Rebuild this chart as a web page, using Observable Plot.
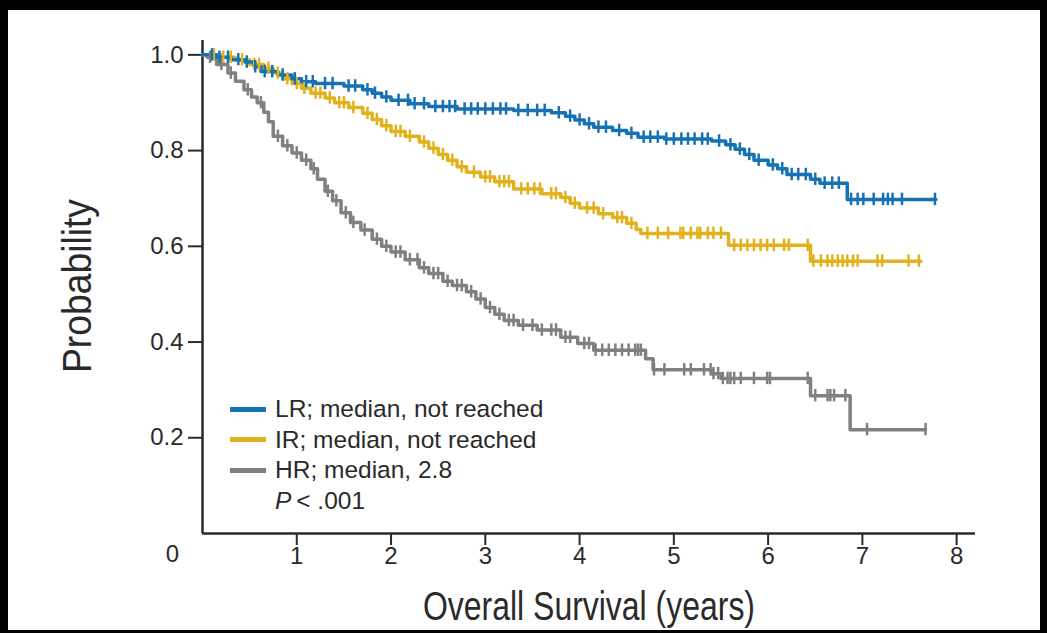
<!DOCTYPE html>
<html><head><meta charset="utf-8">
<script src="https://cdn.jsdelivr.net/npm/d3@7"></script>
<script src="https://cdn.jsdelivr.net/npm/@observablehq/plot@0.6"></script>
<style>
html,body{margin:0;padding:0;background:#fff;}
#wrap{position:relative;width:1047px;height:633px;overflow:hidden;background:#fff;}
#wrap svg{position:absolute;left:0;top:0;}
#frame{position:absolute;left:0;top:0;width:1047px;height:633px;box-sizing:border-box;border-style:solid;border-color:#000;border-width:10px 7px 3px 8px;pointer-events:none;}
#legend{position:absolute;left:230px;top:394px;font-family:"Liberation Sans",Arial,sans-serif;font-size:24.5px;color:#2a2a2a;}
.row{display:flex;align-items:center;height:30.5px;}
.sw{width:36px;height:5px;margin-right:9px;}
.pv{padding-left:45px;}
</style></head><body><div id="wrap"></div>
<script>
// ---- data ----
const seriesNames = ["LR", "IR", "HR"];
const legendLabels = ["LR; median, not reached", "IR; median, not reached", "HR; median, 2.8"];
const seriesColors = ["#1672b3", "#e2b21e", "#808080"];
const pValueText = "< .001";
const xTicks = [1, 2, 3, 4, 5, 6, 7, 8];
const yTicks = [0.2, 0.4, 0.6, 0.8, 1.0];
const originLabel = "0";
const xLabel = "Overall Survival (years)";
const yLabel = "Probability";

const lrTime = [0, 0.15, 0.3, 0.45, 0.55, 0.62, 0.8, 0.95, 1.05, 1.2, 1.5, 1.7, 1.8, 1.9, 2.0, 2.2, 2.4, 2.7, 3.3, 3.7, 3.85, 3.95, 4.05, 4.15, 4.35, 4.5, 4.62, 4.9, 5.4, 5.55, 5.65, 5.75, 5.85, 6.0, 6.1, 6.2, 6.45, 6.55, 6.84, 7.78];
const lrSurv = [1.0, 0.995, 0.99, 0.985, 0.975, 0.965, 0.958, 0.95, 0.944, 0.94, 0.935, 0.927, 0.92, 0.912, 0.905, 0.898, 0.892, 0.887, 0.884, 0.879, 0.872, 0.864, 0.856, 0.849, 0.842, 0.836, 0.828, 0.824, 0.82, 0.812, 0.803, 0.792, 0.78, 0.77, 0.762, 0.75, 0.74, 0.732, 0.698, 0.698];
const lrCensor = [0.1, 0.18, 0.27, 0.38, 0.47, 0.56, 0.66, 0.74, 0.85, 0.98, 1.1, 1.17, 1.3, 1.38, 1.55, 1.62, 1.75, 1.83, 1.95, 2.08, 2.18, 2.25, 2.35, 2.47, 2.55, 2.62, 2.68, 2.78, 2.85, 2.92, 3.0, 3.08, 3.16, 3.22, 3.35, 3.45, 3.55, 3.63, 3.78, 3.9, 4.0, 4.1, 4.2, 4.28, 4.42, 4.55, 4.68, 4.75, 4.83, 4.92, 5.0, 5.08, 5.15, 5.22, 5.3, 5.36, 5.48, 5.6, 5.7, 5.8, 5.9, 6.05, 6.15, 6.25, 6.32, 6.4, 6.5, 6.6, 6.68, 6.75, 6.88, 6.95, 7.01, 7.12, 7.22, 7.27, 7.32, 7.42, 7.77];

const irTime = [0, 0.2, 0.35, 0.5, 0.65, 0.75, 0.85, 0.95, 1.05, 1.15, 1.3, 1.4, 1.55, 1.7, 1.8, 1.9, 2.0, 2.15, 2.3, 2.4, 2.5, 2.6, 2.7, 2.8, 2.95, 3.1, 3.3, 3.6, 3.8, 3.9, 4.0, 4.2, 4.35, 4.5, 4.6, 4.65, 5.58, 6.45, 7.62];
const irSurv = [1.0, 0.995, 0.99, 0.98, 0.972, 0.962, 0.95, 0.94, 0.93, 0.92, 0.91, 0.9, 0.89, 0.878, 0.865, 0.852, 0.84, 0.83, 0.818, 0.805, 0.792, 0.78, 0.766, 0.755, 0.745, 0.735, 0.72, 0.71, 0.702, 0.69, 0.68, 0.668, 0.66, 0.648, 0.635, 0.627, 0.602, 0.569, 0.569];
const irCensor = [0.12, 0.22, 0.3, 0.42, 0.55, 0.6, 0.7, 0.8, 0.9, 1.0, 1.08, 1.2, 1.25, 1.35, 1.45, 1.5, 1.6, 1.75, 1.85, 1.95, 2.05, 2.1, 2.2, 2.35, 2.45, 2.55, 2.65, 2.75, 2.88, 3.0, 3.05, 3.15, 3.2, 3.25, 3.38, 3.45, 3.52, 3.58, 3.7, 3.75, 3.85, 3.95, 4.08, 4.15, 4.25, 4.4, 4.45, 4.55, 4.72, 4.83, 4.94, 5.07, 5.1, 5.18, 5.25, 5.28, 5.36, 5.42, 5.5, 5.64, 5.71, 5.78, 5.85, 5.92, 5.99, 6.06, 6.17, 6.22, 6.42, 6.48, 6.56, 6.63, 6.68, 6.74, 6.79, 6.84, 6.9, 6.95, 7.16, 7.21, 7.49, 7.6];

const hrTime = [0, 0.05, 0.15, 0.27, 0.35, 0.44, 0.52, 0.58, 0.65, 0.7, 0.75, 0.85, 0.95, 1.05, 1.15, 1.22, 1.3, 1.38, 1.47, 1.57, 1.68, 1.8, 1.9, 2.0, 2.15, 2.3, 2.4, 2.55, 2.65, 2.8, 2.9, 3.0, 3.1, 3.2, 3.35, 3.55, 3.8, 3.98, 4.15, 4.7, 4.78, 5.4, 5.5, 6.45, 6.87, 7.67];
const hrSurv = [1.0, 0.995, 0.98, 0.962, 0.945, 0.927, 0.912, 0.9, 0.88, 0.86, 0.83, 0.81, 0.795, 0.78, 0.762, 0.74, 0.715, 0.695, 0.67, 0.65, 0.634, 0.615, 0.6, 0.588, 0.572, 0.555, 0.543, 0.527, 0.518, 0.505, 0.49, 0.472, 0.458, 0.445, 0.435, 0.425, 0.41, 0.397, 0.383, 0.365, 0.342, 0.334, 0.324, 0.288, 0.217, 0.217];
const hrCensor = [0.08, 0.2, 0.3, 0.48, 0.62, 0.8, 0.9, 1.0, 1.1, 1.18, 1.33, 1.42, 1.52, 1.6, 1.72, 1.85, 1.95, 2.05, 2.1, 2.2, 2.28, 2.35, 2.45, 2.5, 2.6, 2.7, 2.75, 2.85, 2.95, 3.05, 3.15, 3.25, 3.3, 3.4, 3.5, 3.6, 3.7, 3.75, 3.85, 3.9, 4.05, 4.1, 4.17, 4.24, 4.31, 4.38, 4.45, 4.52, 4.59, 4.62, 4.65, 4.79, 4.9, 5.11, 5.18, 5.32, 5.39, 5.42, 5.47, 5.52, 5.57, 5.6, 5.64, 5.71, 5.85, 5.99, 6.02, 6.42, 6.5, 6.63, 6.66, 6.7, 6.82, 7.05, 7.67];

// ---- build tables ----
const raw = {
  LR: {time: lrTime, surv: lrSurv, censor: lrCensor},
  IR: {time: irTime, surv: irSurv, censor: irCensor},
  HR: {time: hrTime, surv: hrSurv, censor: hrCensor}
};
const drawOrder = ["HR", "IR", "LR"];
const steps = [];
const censors = [];
for (const s of drawOrder) {
  const r = raw[s];
  r.time.forEach((t, i) => steps.push({series: s, t, p: r.surv[i]}));
  r.censor.forEach(t => {
    const i = Math.max(0, d3.bisectRight(r.time, t) - 1);
    censors.push({series: s, t, p: r.surv[i]});
  });
}

const sans = '"Liberation Sans",Arial,Helvetica,sans-serif';
const chart = Plot.plot({
  width: 1047, height: 633,
  marginLeft: 202, marginRight: 72, marginTop: 40, marginBottom: 100,
  style: {fontFamily: sans, fontSize: "24px", color: "#2a2a2a", background: "#fff"},
  x: {domain: [0, 8.2]},
  y: {domain: [0, 1.03]},
  color: {domain: seriesNames, range: seriesColors},
  marks: [
    Plot.axisX({ticks: xTicks, tickSize: 12, tickPadding: 1, label: null, stroke: "#2a2a2a", strokeWidth: 2, fontSize: 24}),
    Plot.axisY({ticks: yTicks, tickFormat: d3.format(".1f"), tickSize: 14, tickPadding: 5, label: null, stroke: "#2a2a2a", strokeWidth: 2, fontSize: 24}),
    Plot.ruleX([0], {y1: 0, y2: 1.03, stroke: "#2a2a2a", strokeWidth: 2.5}),
    Plot.ruleY([0], {x1: 0, x2: 8.2, stroke: "#2a2a2a", strokeWidth: 2.5}),
    Plot.text([originLabel], {x: 0, y: 0, text: d => d, dx: -30, dy: 21, fontSize: 24}),
    Plot.text([xLabel], {frameAnchor: "bottom", text: d => d, lineAnchor: "middle", dy: 74, fontSize: 40}),
    Plot.text([yLabel], {frameAnchor: "left", text: d => d, textAnchor: "middle", lineAnchor: "middle", rotate: -90, dx: -124, dy: -1, fontSize: 40}),
    Plot.line(steps, {x: "t", y: "p", z: "series", stroke: "series", curve: "step-after", strokeWidth: 3.5}),
    Plot.ruleX(censors, {x: "t", y1: d => d.p - 0.013, y2: d => d.p + 0.013, stroke: "series", strokeWidth: 2.5})
  ]
});
// condense the two axis titles to the reference's narrow type
chart.querySelectorAll("text").forEach(el => {
  const s = el.textContent;
  if (s === xLabel) { el.setAttribute("textLength", 332); el.setAttribute("lengthAdjust", "spacingAndGlyphs"); }
  if (s === yLabel) { el.setAttribute("textLength", 174); el.setAttribute("lengthAdjust", "spacingAndGlyphs"); }
});
const wrap = document.getElementById("wrap");
wrap.appendChild(chart);

// legend overlay
const lg = document.createElement("div");
lg.id = "legend";
seriesNames.forEach((s, i) => {
  const row = document.createElement("div");
  row.className = "row";
  const sw = document.createElement("div");
  sw.className = "sw";
  sw.style.background = seriesColors[i];
  const tx = document.createElement("span");
  tx.textContent = legendLabels[i];
  row.appendChild(sw); row.appendChild(tx);
  lg.appendChild(row);
});
const pr = document.createElement("div");
pr.className = "row pv";
pr.innerHTML = "<i>P</i>&thinsp;" + pValueText;
lg.appendChild(pr);
wrap.appendChild(lg);

const fr = document.createElement("div");
fr.id = "frame";
wrap.appendChild(fr);
</script></body></html>
